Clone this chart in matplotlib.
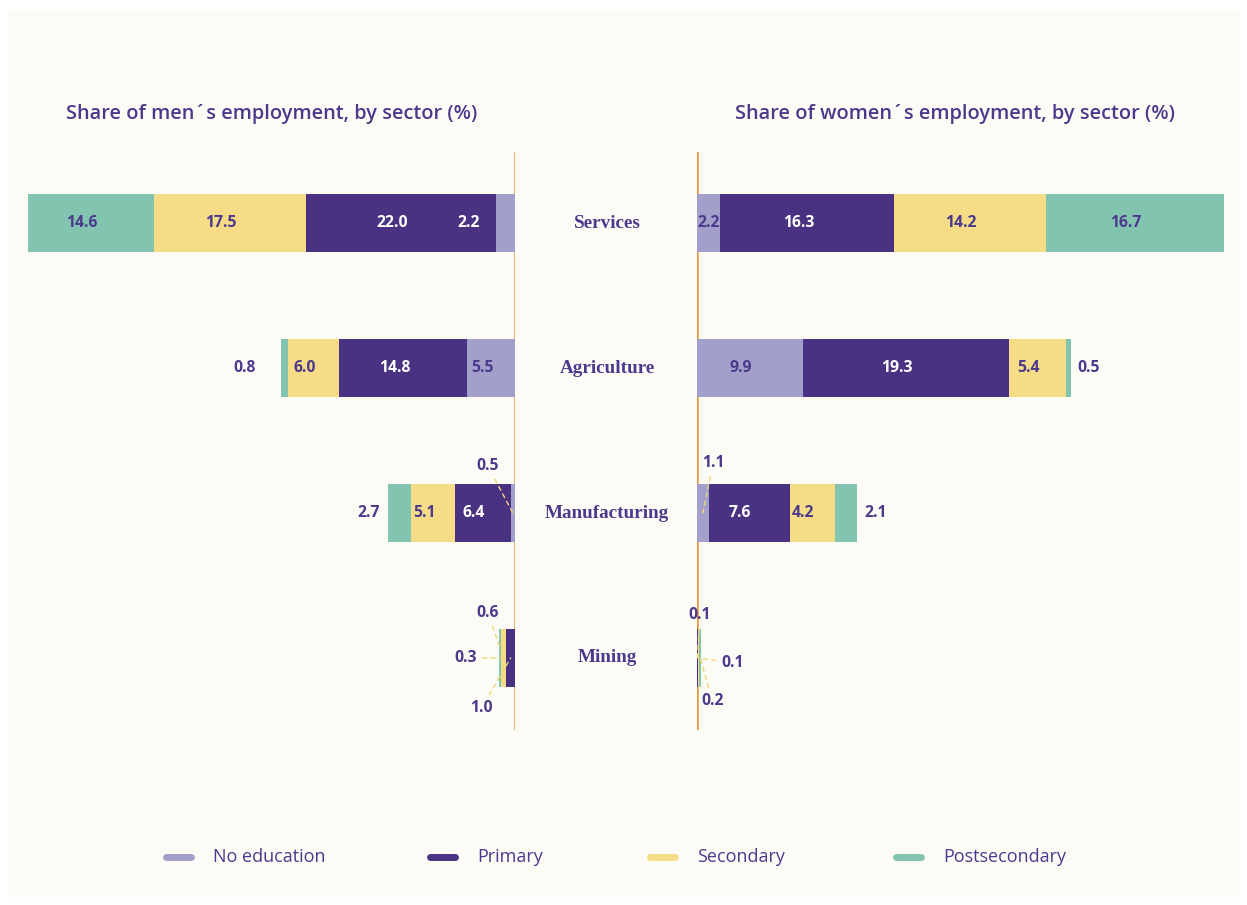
import matplotlib
matplotlib.use("Agg")
import matplotlib.pyplot as plt
from matplotlib.patches import Rectangle
from matplotlib.lines import Line2D

# ---------------- data ----------------
sectors = ["Services", "Agriculture", "Manufacturing", "Mining"]
levels = ["No education", "Primary", "Secondary", "Postsecondary"]

men_no_edu = [2.2, 5.5, 0.5, 0.0]
men_primary = [22.0, 14.8, 6.4, 1.0]
men_secondary = [17.5, 6.0, 5.1, 0.6]
men_post = [14.6, 0.8, 2.7, 0.3]

women_no_edu = [2.2, 9.9, 1.1, 0.0]
women_primary = [16.3, 19.3, 7.6, 0.1]
women_secondary = [14.2, 5.4, 4.2, 0.1]
women_post = [16.7, 0.5, 2.1, 0.2]

men_title = "Share of men´s employment, by sector (%)"
women_title = "Share of women´s employment, by sector (%)"

# ---------------- style ----------------
colors = ["#A29FCB", "#4A3282", "#F6DC86", "#82C4AF"]
text_purple = "#4B3A8C"
axis_orange = "#E09A3C"
bg = "#FCFBF6"
W, H = 1247, 905

# label nudges in pixels relative to segment centre: (dx, dy_up, leader)
default_nudge = (-9, 0, False)
nudges = {
    ("men", 0, 0): (-37, 0, False),
    ("men", 1, 3): (-39, 0, False),
    ("men", 2, 3): (-31, 0, False),
    ("men", 2, 0): (-25, 47, True),
    ("men", 3, 1): (-29, -50, True),
    ("men", 3, 2): (-16, 45, True),
    ("men", 3, 3): (-34, 0, True),
    ("women", 0, 0): (0, 0, False),
    ("women", 1, 3): (20, 0, False),
    ("women", 2, 3): (30, 0, False),
    ("women", 2, 0): (10, 50, True),
    ("women", 3, 1): (2, 43, True),
    ("women", 3, 2): (34, -5, True),
    ("women", 3, 3): (12, -43, True),
}
white_labels = {("men", 0, 0)}

plt.rcParams["font.family"] = ["Open Sans", "DejaVu Sans"]

fig = plt.figure(figsize=(W / 100, H / 100), dpi=100, facecolor="white")
fig.add_artist(Rectangle((8 / W, 8 / H), (W - 16) / W, (H - 18) / H,
                         transform=fig.transFigure, facecolor=bg,
                         edgecolor="none", zorder=-10))

def fx(px):
    return px / W

def fy(py):
    return 1 - py / H

ax_top, ax_bot = 152, 730
axm = fig.add_axes([fx(28), fy(ax_bot), fx(515) - fx(28), (ax_bot - ax_top) / H])
axw = fig.add_axes([fx(697), fy(ax_bot), fx(1224) - fx(697), (ax_bot - ax_top) / H])

def draw(ax, side, series):
    ypos = list(range(len(sectors)))
    left = [0.0] * len(sectors)
    for li, vals in enumerate(series):
        ax.barh(ypos, vals, left=left, height=0.4, color=colors[li],
                edgecolor="none", zorder=2)
        for si, v in enumerate(vals):
            if v <= 0:
                continue
            c = left[si] + v / 2
            key = (side, si, li)
            dx, dy, leader = nudges.get(key, default_nudge)
            if key in white_labels or (li == 1 and key not in nudges):
                tcol = "white"
            else:
                tcol = text_purple
            kw = {}
            if leader:
                kw["arrowprops"] = dict(arrowstyle="-", linestyle=(0, (3, 3)),
                                        color="#F2D677", lw=1,
                                        shrinkA=2, shrinkB=0)
            ax.annotate(f"{v:.1f}", xy=(c, si), xytext=(dx, dy),
                        textcoords="offset pixels", ha="center", va="center",
                        fontsize=11.3, fontweight="bold", color=tcol,
                        zorder=5, annotation_clip=False, **kw)
        left = [l + v for l, v in zip(left, vals)]
    total_max = max(left)
    if side == "men":
        ax.set_xlim(total_max, 0)
    else:
        ax.set_xlim(0, total_max)
    ax.set_ylim(3.497, -0.49)
    ax.axvline(0, color=axis_orange, lw=1.8, zorder=1)
    ax.axis("off")
    ax.patch.set_visible(False)

draw(axm, "men", [men_no_edu, men_primary, men_secondary, men_post])
draw(axw, "women", [women_no_edu, women_primary, women_secondary, women_post])

# titles
fig.text(fx(66), fy(114), men_title, ha="left", va="center",
         fontsize=14.4, fontweight="semibold", color=text_purple)
fig.text(fx(735), fy(114), women_title, ha="left", va="center",
         fontsize=14.4, fontweight="semibold", color=text_purple)

# category labels
for si, s in enumerate(sectors):
    yp = 223 + si * 145
    fig.text(fx(607), fy(yp), s, ha="center", va="center",
             fontsize=13.8, fontweight="bold", color=text_purple,
             family=["Liberation Serif", "DejaVu Serif"])

# legend
leg_x = [163, 427, 647, 893]
for li, name in enumerate(levels):
    x0 = leg_x[li]
    fig.add_artist(Line2D([fx(x0 + 3), fx(x0 + 28)], [fy(857), fy(857)],
                          transform=fig.transFigure, color=colors[li], lw=5,
                          solid_capstyle="round"))
    fig.text(fx(x0 + 50), fy(857), name, ha="left", va="center",
             fontsize=13, color=text_purple)

fig.savefig("out.png", dpi=100, facecolor="white")
